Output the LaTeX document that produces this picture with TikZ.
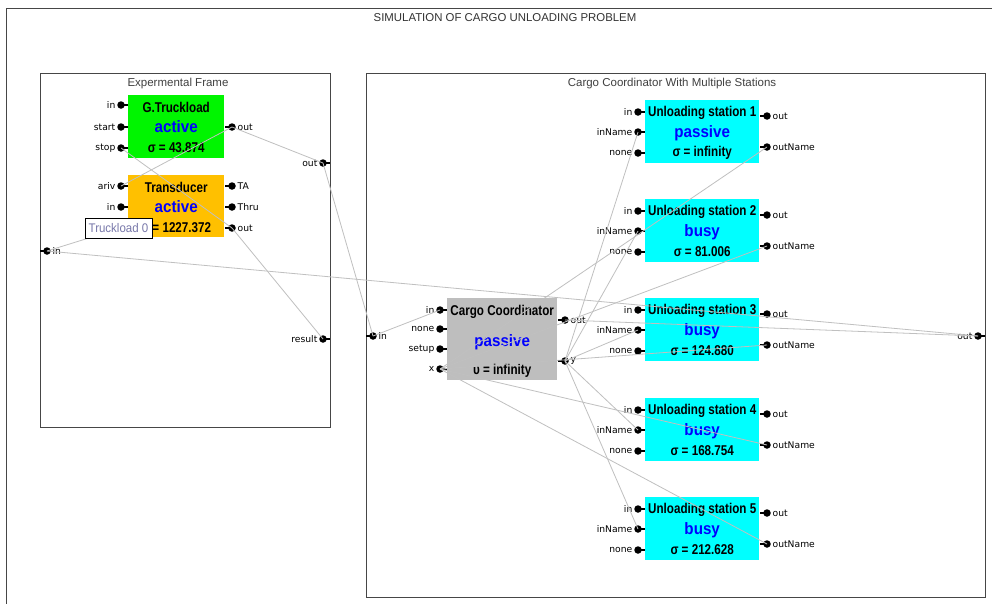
\documentclass[tikz,border=0pt]{standalone}
\usepackage{fontspec}
\setmainfont{Liberation Sans}
\newfontfamily\narfont[FakeStretch=0.82]{Liberation Sans}
\newfontfamily\stfont[FakeStretch=0.92]{Liberation Sans}
\newfontfamily\pfont{DejaVu Sans}
\definecolor{gfill}{RGB}{0,245,0}
\definecolor{tfill}{RGB}{255,192,0}
\definecolor{sfill}{RGB}{0,255,255}
\definecolor{ccfill}{RGB}{190,190,190}
\definecolor{wirec}{RGB}{192,192,192}
\definecolor{framec}{RGB}{70,70,70}
\definecolor{tipc}{RGB}{120,120,170}
\tikzset{
  pdot/.style={circle,fill=black,inner sep=0pt,minimum size=7.5pt},
  plbl/.style={font=\pfont\fontsize{9.2}{10}\selectfont,text=black,inner sep=0pt,label distance=1.5pt},
  mboxs/.style={draw=none,inner sep=0pt,anchor=north west},
  ttl/.style={font=\narfont\bfseries\fontsize{14.2}{14}\selectfont,inner sep=0pt},
  stt/.style={font=\stfont\bfseries\fontsize{16.5}{16.5}\selectfont,text=blue,inner sep=0pt},
  wire/.style={draw=wirec,line width=0.8pt},
  stub/.style={line width=1.4pt},
  frm/.style={draw=framec,line width=1.2pt,inner sep=0pt,anchor=north west},
  frmtitle/.style={font=\fontsize{11.5}{12}\selectfont,text=black!75,inner sep=0pt},
}
\newcommand\mbx[6]{\node[mboxs,fill=#6,minimum width=#4pt,minimum height=#5pt] (#1) at (#2,#3) {};}
\newcommand\mtxt[7]{%
  \node[ttl] (#1-a) at ([yshift=-#2pt]#1.north) {#5};
  \node[stt] (#1-b) at ([yshift=-#3pt]#1.north) {#6};
  \node[ttl] (#1-c) at ([yshift=-#4pt]#1.north) {#7};}
\newcommand\lport[4]{\node[pdot,label={[plbl]left:#4}] (#1) at (#2,#3) {}; \draw[stub] (#1.center) -- ++(7,0);}
\newcommand\rport[4]{\node[pdot,label={[plbl]right:#4}] (#1) at (#2,#3) {}; \draw[stub] (#1.center) -- ++(-7.5,0);}
\begin{document}
\begin{tikzpicture}[x=1pt,y=-1pt]
\useasboundingbox (0,0) rectangle (992,603);
\fill[white] (0,0) rectangle (992,603);
% outer frame
\draw[draw=framec,line width=1pt] (6,8) rectangle (1000,620);
\node[font=\fontsize{11.4}{12}\selectfont,text=black!80,inner sep=0pt] (title) at (505,18) {SIMULATION OF CARGO UNLOADING PROBLEM};
% coupled frames
\node[frm,minimum width=290pt,minimum height=354pt] (ef) at (40,73) {};
\node[frmtitle] (eft) at (178,84) {Expermental Frame};
\node[frm,minimum width=619pt,minimum height=524pt] (cf) at (366,73) {};
\node[frmtitle] (cft) at (672,84) {Cargo Coordinator With Multiple Stations};
% atomic models
\mbx{g}{128}{95}{96}{63}{gfill}
\mtxt{g}{12}{32}{53}{G.Truckload}{active}{σ = 43.874}
\mbx{t}{128}{175}{96}{62}{tfill}
\mtxt{t}{12}{32}{53}{Transducer}{active}{σ = 1227.372}
\mbx{cc}{447}{298}{110}{82}{ccfill}
\mtxt{cc}{14}{44}{73}{Cargo Coordinator}{passive}{υ = infinity}
\foreach \i/\T/\st/\sg in {1/100/passive/infinity,2/199/busy/81.006,3/298/busy/124.880,4/398/busy/168.754,5/497/busy/212.628}{
  \mbx{s\i}{645}{\T}{114}{63}{sfill}
  \mtxt{s\i}{13}{33}{53}{Unloading station \i}{\st}{σ = \sg}
  \lport{s\i-in}{638}{\T+12}{in}
  \lport{s\i-inName}{638}{\T+32}{inName}
  \lport{s\i-none}{638}{\T+53}{none}
  \rport{s\i-out}{767}{\T+16}{out}
  \rport{s\i-outName}{767}{\T+47}{outName}
}
% ports
\lport{g-in}{121}{105}{in}
\lport{g-start}{121}{127}{start}
\lport{g-stop}{121}{148}{stop}
\rport{g-out}{232}{127}{out}
\lport{t-ariv}{121}{186}{ariv}
\lport{t-in}{121}{207}{in}
\lport{t-solved}{121}{228}{solved}
\rport{t-TA}{232}{186}{TA}
\rport{t-Thru}{232}{207}{Thru}
\rport{t-out}{232}{228}{out}
\lport{ef-out}{323}{163}{out}
\lport{ef-result}{323}{339}{result}
\rport{ef-in}{47}{251}{in}
\rport{cf-in}{373}{336}{in}
\lport{cf-out}{978}{336}{out}
\lport{cc-in}{440}{310}{in}
\lport{cc-none}{440}{329}{none}
\lport{cc-setup}{440}{349}{setup}
\lport{cc-x}{440}{369}{x}
\rport{cc-out}{565}{320}{out}
\rport{cc-y}{565}{361}{y}
% couplings
\draw[wire] (g-out.center) -- (ef-out.center);
\draw[wire] (g-out.center) -- (t-ariv.center);
\draw[wire] (t-out.center) -- (g-stop.center);
\draw[wire] (t-out.center) -- (ef-result.center);
\draw[wire] (ef-in.center) -- (t-solved.center);
\draw[wire] (ef-out.center) -- (cf-in.center);
\draw[wire] (cf-in.center) -- (cc-in.center);
\draw[wire] (cc-out.center) -- (cf-out.center);
\draw[wire] (cf-out.center) -- (ef-in.center);
\foreach \i in {1,...,5}{
  \draw[wire] (cc-y.center) -- (s\i-inName.center);
  \draw[wire] (s\i-outName.center) -- (cc-x.center);
}
% tooltip
\node[draw=black,fill=white,line width=0.8pt,inner sep=0pt,minimum width=67pt,minimum height=20pt,font=\stfont\fontsize{12.5}{13}\selectfont,text=tipc] (tip) at (118.5,228) {Truckload 0};
\end{tikzpicture}
\end{document}
